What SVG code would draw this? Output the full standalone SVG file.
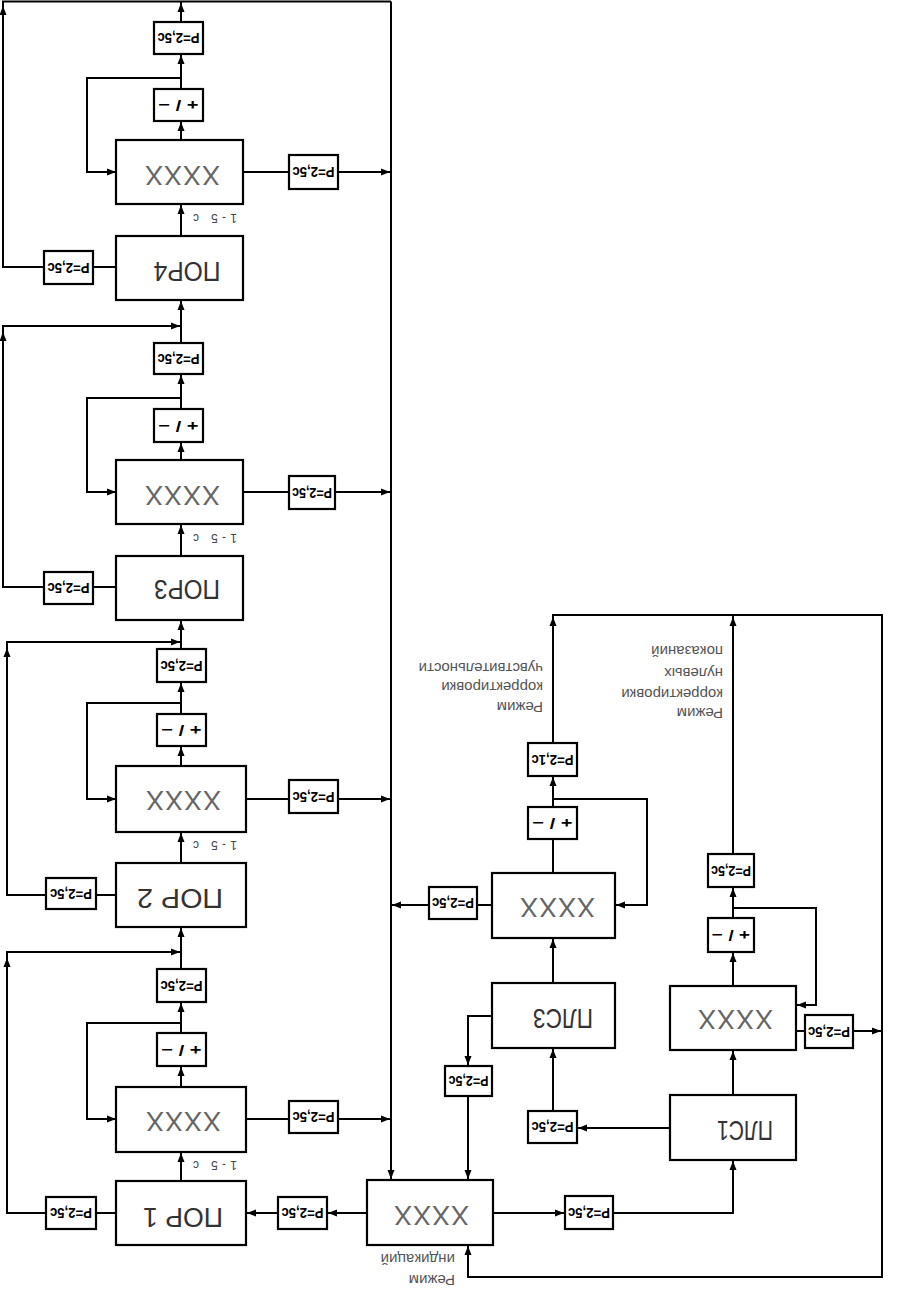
<svg xmlns="http://www.w3.org/2000/svg" width="899" height="1289" viewBox="0 0 899 1289">
<style>
.b{fill:#fff;stroke:#000;stroke-width:2.2}
.c{fill:none;stroke:#000;stroke-width:2}
.x{font-family:"Liberation Sans",sans-serif;font-size:27px;fill:#666;letter-spacing:1px}
.n{font-family:"Liberation Sans",sans-serif;font-size:28px;fill:#333}
.p{font-family:"Liberation Sans",sans-serif;font-size:14px;font-weight:bold;fill:#000}
.l{font-family:"Liberation Sans",sans-serif;font-size:12px;fill:#444}
.t{font-family:"Liberation Sans",sans-serif;font-size:15px;fill:#555}
</style>
<defs>
<path id="ah" d="M0,0 L-9,-3.5 L-9,3.5 Z" fill="#000"/>
</defs>
<rect width="899" height="1289" fill="#fff"/>

<g id="connectors">
<path class="c" d="M181,236V204M181,140V121M181,89V54M181,22V1.5M181,78H87V172H116M243,172H289M338,172H391M116,267H93M44,267H3V1.5H391"/>
<path class="c" d="M181,556V524M181,460V442M181,409V374M181,343V300M44,587H3V326H181M116,587H93M181,398H87V492H116M243,492H289M335,492H391"/>
<path class="c" d="M181,863V832M181,766V746M181,714V682M181,649V620M46,895H7V642H181M116,895H96M181,703H87V799H116M246,799H289M338,799H391"/>
<path class="c" d="M181,1181V1152M181,1087V1066M181,1033V1002M181,969V927M46,1213H7V952H181M116,1213H96M181,1023H87V1119H116M246,1119H289M338,1119H391M367,1213H327M278,1213H246"/>
<path class="c" d="M391,1.5V1180"/>
<path class="c" d="M493,1213H565M613,1213H733V1160M670,1128H577M553,1111V1048M492,1016H468V1066M468,1096V1180M553,983V938M492,905H477M429,905H391M553,873V839M553,799H647V905H615M553,807V776M553,743V615H882V1277H468V1245M733,854V615M733,1095V1050M733,986V952M733,918V887M733,908H816V1005H796M796,1031H805M853,1031H882"/>
<g id="arrowheads">
<use href="#ah" transform="translate(181 205) rotate(-90)"/>
<use href="#ah" transform="translate(181 122) rotate(-90)"/>
<use href="#ah" transform="translate(181 55) rotate(-90)"/>
<use href="#ah" transform="translate(181 3) rotate(-90)"/>
<use href="#ah" transform="translate(116 172)"/>
<use href="#ah" transform="translate(390 172)"/>
<use href="#ah" transform="translate(3 6) rotate(-90)"/>
<use href="#ah" transform="translate(181 525) rotate(-90)"/>
<use href="#ah" transform="translate(181 443) rotate(-90)"/>
<use href="#ah" transform="translate(181 375) rotate(-90)"/>
<use href="#ah" transform="translate(181 301) rotate(-90)"/>
<use href="#ah" transform="translate(180 326)"/>
<use href="#ah" transform="translate(3 332) rotate(-90)"/>
<use href="#ah" transform="translate(116 492)"/>
<use href="#ah" transform="translate(390 492)"/>
<use href="#ah" transform="translate(181 833) rotate(-90)"/>
<use href="#ah" transform="translate(181 747) rotate(-90)"/>
<use href="#ah" transform="translate(181 683) rotate(-90)"/>
<use href="#ah" transform="translate(181 621) rotate(-90)"/>
<use href="#ah" transform="translate(180 642)"/>
<use href="#ah" transform="translate(7 648) rotate(-90)"/>
<use href="#ah" transform="translate(116 799)"/>
<use href="#ah" transform="translate(390 799)"/>
<use href="#ah" transform="translate(181 1153) rotate(-90)"/>
<use href="#ah" transform="translate(181 1067) rotate(-90)"/>
<use href="#ah" transform="translate(181 1003) rotate(-90)"/>
<use href="#ah" transform="translate(181 928) rotate(-90)"/>
<use href="#ah" transform="translate(180 952)"/>
<use href="#ah" transform="translate(7 958) rotate(-90)"/>
<use href="#ah" transform="translate(116 1119)"/>
<use href="#ah" transform="translate(390 1119)"/>
<use href="#ah" transform="translate(328 1213) rotate(180)"/>
<use href="#ah" transform="translate(247 1213) rotate(180)"/>
<use href="#ah" transform="translate(391 1179) rotate(90)"/>
<use href="#ah" transform="translate(564 1213)"/>
<use href="#ah" transform="translate(733 1161) rotate(-90)"/>
<use href="#ah" transform="translate(578 1128) rotate(180)"/>
<use href="#ah" transform="translate(553 1049) rotate(-90)"/>
<use href="#ah" transform="translate(468 1065) rotate(90)"/>
<use href="#ah" transform="translate(468 1179) rotate(90)"/>
<use href="#ah" transform="translate(553 939) rotate(-90)"/>
<use href="#ah" transform="translate(392 905) rotate(180)"/>
<use href="#ah" transform="translate(616 905) rotate(180)"/>
<use href="#ah" transform="translate(553 777) rotate(-90)"/>
<use href="#ah" transform="translate(553 617) rotate(-90)"/>
<use href="#ah" transform="translate(468 1246) rotate(-90)"/>
<use href="#ah" transform="translate(733 617) rotate(-90)"/>
<use href="#ah" transform="translate(733 1051) rotate(-90)"/>
<use href="#ah" transform="translate(733 953) rotate(-90)"/>
<use href="#ah" transform="translate(733 888) rotate(-90)"/>
<use href="#ah" transform="translate(797 1005) rotate(180)"/>
<use href="#ah" transform="translate(881 1031)"/>
</g>
</g>

<!-- Group 4 -->
<g id="p4top"><rect class="b" x="154" y="22" width="49" height="32"/><text class="p" x="178.5" y="38" transform="rotate(180 178.5 38)" text-anchor="middle" dominant-baseline="central" textLength="42" lengthAdjust="spacingAndGlyphs">Р=2,5с</text></g>
<g id="pm4"><rect class="b" x="154" y="89" width="49" height="32"/><text class="p" x="178.5" y="105" transform="rotate(180 178.5 105)" text-anchor="middle" dominant-baseline="central" textLength="40" lengthAdjust="spacingAndGlyphs">+ / −</text></g>
<g id="x4"><rect class="b" x="116" y="140" width="127" height="64"/><text class="x" x="182" y="175" transform="rotate(180 182 175)" text-anchor="middle" dominant-baseline="central">XXXX</text></g>
<g id="pr4"><rect class="b" x="289" y="155" width="49" height="34"/><text class="p" x="313.5" y="172" transform="rotate(180 313.5 172)" text-anchor="middle" dominant-baseline="central" textLength="42" lengthAdjust="spacingAndGlyphs">Р=2,5с</text></g>
<g id="por4"><rect class="b" x="116" y="236" width="127" height="64"/><text class="n" x="187" y="271" transform="rotate(180 187 271)" text-anchor="middle" dominant-baseline="central" textLength="67" lengthAdjust="spacingAndGlyphs">ПОР4</text></g>
<g id="pl4"><rect class="b" x="44" y="251" width="49" height="33"/><text class="p" x="68.5" y="267.5" transform="rotate(180 68.5 267.5)" text-anchor="middle" dominant-baseline="central" textLength="42" lengthAdjust="spacingAndGlyphs">Р=2,5с</text></g>
<text class="l" x="215" y="218" transform="rotate(180 215 218)" text-anchor="middle" dominant-baseline="central" textLength="44" lengthAdjust="spacing">1-5 с</text>

<!-- Group 3 -->
<g id="p3top"><rect class="b" x="154" y="343" width="49" height="31"/><text class="p" x="178.5" y="358.5" transform="rotate(180 178.5 358.5)" text-anchor="middle" dominant-baseline="central" textLength="42" lengthAdjust="spacingAndGlyphs">Р=2,5с</text></g>
<g id="pm3"><rect class="b" x="154" y="409" width="49" height="33"/><text class="p" x="178.5" y="425.5" transform="rotate(180 178.5 425.5)" text-anchor="middle" dominant-baseline="central" textLength="40" lengthAdjust="spacingAndGlyphs">+ / −</text></g>
<g id="x3"><rect class="b" x="116" y="460" width="127" height="64"/><text class="x" x="182" y="495" transform="rotate(180 182 495)" text-anchor="middle" dominant-baseline="central">XXXX</text></g>
<g id="pr3"><rect class="b" x="289" y="476" width="46" height="33"/><text class="p" x="312" y="492.5" transform="rotate(180 312 492.5)" text-anchor="middle" dominant-baseline="central" textLength="40" lengthAdjust="spacingAndGlyphs">Р=2,5с</text></g>
<g id="por3"><rect class="b" x="116" y="556" width="127" height="64"/><text class="n" x="187" y="589" transform="rotate(180 187 589)" text-anchor="middle" dominant-baseline="central" textLength="66" lengthAdjust="spacingAndGlyphs">ПОР3</text></g>
<g id="pl3"><rect class="b" x="44" y="572" width="49" height="32"/><text class="p" x="68.5" y="588" transform="rotate(180 68.5 588)" text-anchor="middle" dominant-baseline="central" textLength="42" lengthAdjust="spacingAndGlyphs">Р=2,5с</text></g>
<text class="l" x="215" y="538" transform="rotate(180 215 538)" text-anchor="middle" dominant-baseline="central" textLength="44" lengthAdjust="spacing">1-5 с</text>

<!-- Group 2 -->
<g id="p2top"><rect class="b" x="157" y="649" width="49" height="33"/><text class="p" x="181.5" y="665.5" transform="rotate(180 181.5 665.5)" text-anchor="middle" dominant-baseline="central" textLength="42" lengthAdjust="spacingAndGlyphs">Р=2,5с</text></g>
<g id="pm2"><rect class="b" x="157" y="714" width="49" height="32"/><text class="p" x="181.5" y="730" transform="rotate(180 181.5 730)" text-anchor="middle" dominant-baseline="central" textLength="40" lengthAdjust="spacingAndGlyphs">+ / −</text></g>
<g id="x2"><rect class="b" x="116" y="766" width="130" height="66"/><text class="x" x="183" y="800" transform="rotate(180 183 800)" text-anchor="middle" dominant-baseline="central">XXXX</text></g>
<g id="pr2"><rect class="b" x="289" y="780" width="49" height="33"/><text class="p" x="313.5" y="796.5" transform="rotate(180 313.5 796.5)" text-anchor="middle" dominant-baseline="central" textLength="42" lengthAdjust="spacingAndGlyphs">Р=2,5с</text></g>
<g id="por2"><rect class="b" x="116" y="863" width="130" height="64"/><text class="n" x="180" y="898" transform="rotate(180 180 898)" text-anchor="middle" dominant-baseline="central" textLength="86" lengthAdjust="spacingAndGlyphs">ПОР  2</text></g>
<g id="pl2"><rect class="b" x="46" y="878" width="50" height="31"/><text class="p" x="71" y="893.5" transform="rotate(180 71 893.5)" text-anchor="middle" dominant-baseline="central" textLength="42" lengthAdjust="spacingAndGlyphs">Р=2,5с</text></g>
<text class="l" x="215" y="845" transform="rotate(180 215 845)" text-anchor="middle" dominant-baseline="central" textLength="44" lengthAdjust="spacing">1-5 с</text>

<!-- Group 1 -->
<g id="p1top"><rect class="b" x="157" y="969" width="49" height="33"/><text class="p" x="181.5" y="985.5" transform="rotate(180 181.5 985.5)" text-anchor="middle" dominant-baseline="central" textLength="42" lengthAdjust="spacingAndGlyphs">Р=2,5с</text></g>
<g id="pm1"><rect class="b" x="157" y="1033" width="49" height="33"/><text class="p" x="181.5" y="1049.5" transform="rotate(180 181.5 1049.5)" text-anchor="middle" dominant-baseline="central" textLength="40" lengthAdjust="spacingAndGlyphs">+ / −</text></g>
<g id="x1"><rect class="b" x="116" y="1087" width="130" height="65"/><text class="x" x="183" y="1121" transform="rotate(180 183 1121)" text-anchor="middle" dominant-baseline="central">XXXX</text></g>
<g id="pr1"><rect class="b" x="289" y="1101" width="49" height="32"/><text class="p" x="313.5" y="1117" transform="rotate(180 313.5 1117)" text-anchor="middle" dominant-baseline="central" textLength="42" lengthAdjust="spacingAndGlyphs">Р=2,5с</text></g>
<g id="por1"><rect class="b" x="116" y="1181" width="130" height="64"/><text class="n" x="183" y="1217" transform="rotate(180 183 1217)" text-anchor="middle" dominant-baseline="central" textLength="80" lengthAdjust="spacingAndGlyphs">ПОР  1</text></g>
<g id="pl1"><rect class="b" x="46" y="1197" width="50" height="32"/><text class="p" x="71" y="1213" transform="rotate(180 71 1213)" text-anchor="middle" dominant-baseline="central" textLength="42" lengthAdjust="spacingAndGlyphs">Р=2,5с</text></g>
<g id="pmid"><rect class="b" x="278" y="1197" width="49" height="32"/><text class="p" x="302.5" y="1213" transform="rotate(180 302.5 1213)" text-anchor="middle" dominant-baseline="central" textLength="42" lengthAdjust="spacingAndGlyphs">Р=2,5с</text></g>
<text class="l" x="215" y="1165" transform="rotate(180 215 1165)" text-anchor="middle" dominant-baseline="central" textLength="44" lengthAdjust="spacing">1-5 с</text>

<!-- Right part -->
<g id="mainx"><rect class="b" x="367" y="1180" width="126" height="65"/><text class="x" x="431" y="1215" transform="rotate(180 431 1215)" text-anchor="middle" dominant-baseline="central">XXXX</text></g>
<g id="pmr"><rect class="b" x="565" y="1196" width="48" height="33"/><text class="p" x="589" y="1212.5" transform="rotate(180 589 1212.5)" text-anchor="middle" dominant-baseline="central" textLength="42" lengthAdjust="spacingAndGlyphs">Р=2,5с</text></g>
<g id="pls1"><rect class="b" x="670" y="1095" width="126" height="65"/><text class="n" x="745" y="1130" transform="rotate(180 745 1130)" text-anchor="middle" dominant-baseline="central" textLength="56" lengthAdjust="spacingAndGlyphs">ПЛС1</text></g>
<g id="ppls1"><rect class="b" x="528" y="1111" width="49" height="32"/><text class="p" x="552.5" y="1127" transform="rotate(180 552.5 1127)" text-anchor="middle" dominant-baseline="central" textLength="42" lengthAdjust="spacingAndGlyphs">Р=2,5с</text></g>
<g id="pls3"><rect class="b" x="492" y="983" width="123" height="65"/><text class="n" x="563" y="1018" transform="rotate(180 563 1018)" text-anchor="middle" dominant-baseline="central" textLength="60" lengthAdjust="spacingAndGlyphs">ПЛС3</text></g>
<g id="ppls3"><rect class="b" x="445" y="1066" width="47" height="30"/><text class="p" x="468.5" y="1081" transform="rotate(180 468.5 1081)" text-anchor="middle" dominant-baseline="central" textLength="40" lengthAdjust="spacingAndGlyphs">Р=2,5с</text></g>
<g id="xpls3"><rect class="b" x="492" y="873" width="123" height="65"/><text class="x" x="557" y="907" transform="rotate(180 557 907)" text-anchor="middle" dominant-baseline="central">XXXX</text></g>
<g id="plpls3"><rect class="b" x="429" y="887" width="48" height="32"/><text class="p" x="453" y="903" transform="rotate(180 453 903)" text-anchor="middle" dominant-baseline="central" textLength="42" lengthAdjust="spacingAndGlyphs">Р=2,5с</text></g>
<g id="pmpls3"><rect class="b" x="528" y="807" width="49" height="32"/><text class="p" x="552.5" y="823" transform="rotate(180 552.5 823)" text-anchor="middle" dominant-baseline="central" textLength="40" lengthAdjust="spacingAndGlyphs">+ / −</text></g>
<g id="ptpls3"><rect class="b" x="528" y="743" width="49" height="33"/><text class="p" x="552.5" y="759.5" transform="rotate(180 552.5 759.5)" text-anchor="middle" dominant-baseline="central" textLength="42" lengthAdjust="spacingAndGlyphs">Р=2,1с</text></g>
<g id="xr"><rect class="b" x="670" y="986" width="126" height="64"/><text class="x" x="735" y="1019" transform="rotate(180 735 1019)" text-anchor="middle" dominant-baseline="central">XXXX</text></g>
<g id="pmr2"><rect class="b" x="708" y="918" width="46" height="34"/><text class="p" x="731" y="935" transform="rotate(180 731 935)" text-anchor="middle" dominant-baseline="central" textLength="38" lengthAdjust="spacingAndGlyphs">+ / −</text></g>
<g id="ptr"><rect class="b" x="708" y="854" width="46" height="33"/><text class="p" x="731" y="870.5" transform="rotate(180 731 870.5)" text-anchor="middle" dominant-baseline="central" textLength="40" lengthAdjust="spacingAndGlyphs">Р=2,5с</text></g>
<g id="prr"><rect class="b" x="805" y="1015" width="48" height="33"/><text class="p" x="829" y="1031.5" transform="rotate(180 829 1031.5)" text-anchor="middle" dominant-baseline="central" textLength="42" lengthAdjust="spacingAndGlyphs">Р=2,5с</text></g>

<g id="labels" transform="rotate(180 449.5 644.5)">
<text class="t" x="356" y="587">Режим</text>
<text class="t" x="356" y="607">корректировки</text>
<text class="t" x="356" y="626">чувствительности</text>
<text class="t" x="176" y="581">Режим</text>
<text class="t" x="176" y="600">корректировки</text>
<text class="t" x="176" y="621">нулевых</text>
<text class="t" x="176" y="643">показаний</text>
<text class="t" x="444" y="14">Режим</text>
<text class="t" x="444" y="35">индикаций</text>
</g>
</svg>
